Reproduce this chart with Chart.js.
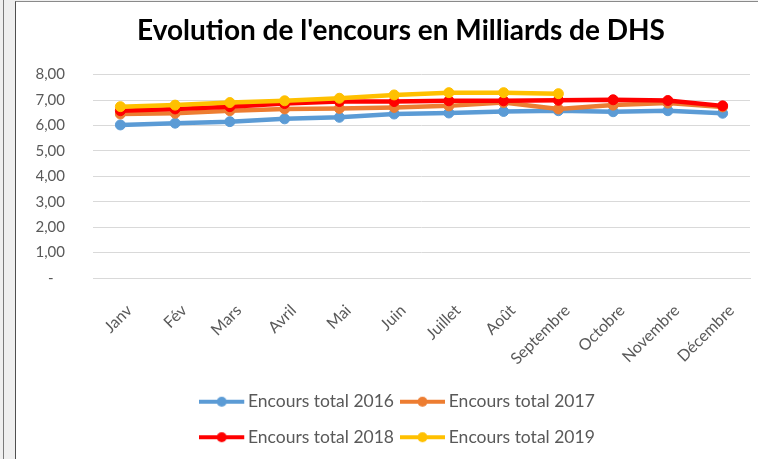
<!DOCTYPE html>
<html>
<head>
<meta charset="utf-8">
<script src="https://cdn.jsdelivr.net/npm/chart.js@4"></script>
<style>
  html, body { margin: 0; padding: 0; width: 758px; height: 459px; overflow: hidden; background: #efefef; }
  #strip { position: absolute; left: 3px; top: 0; width: 1px; height: 459px; background: #7a7a7a; }
  #frame { position: absolute; left: 15px; top: 1px; width: 800px; height: 480px; background: #fff;
           border-left: 1px solid #505050; border-top: 1px solid #8a8a8a; }
  #wrap { position: absolute; left: 0; top: 0; width: 786px; height: 457px; }
</style>
</head>
<body>
<div id="strip"></div>
<div id="frame"><div id="wrap"><canvas id="c"></canvas></div></div>
<script>
const categories = ['Janv', 'Fév', 'Mars', 'Avril', 'Mai', 'Juin', 'Juillet', 'Août', 'Septembre', 'Octobre', 'Novembre', 'Décembre'];
const encours2016 = [6.02, 6.09, 6.15, 6.26, 6.32, 6.45, 6.49, 6.55, 6.58, 6.54, 6.58, 6.48];
const encours2017 = [6.45, 6.48, 6.58, 6.65, 6.67, 6.71, 6.77, 6.90, 6.65, 6.80, 6.88, 6.73];
const encours2018 = [6.58, 6.65, 6.74, 6.86, 6.94, 6.94, 6.97, 6.97, 6.99, 7.01, 6.98, 6.77];
const encours2019 = [6.74, 6.80, 6.90, 6.97, 7.07, 7.20, 7.29, 7.29, 7.25, null, null, null];
const seriesNames = ['Encours total 2016', 'Encours total 2017', 'Encours total 2018', 'Encours total 2019'];
const yTickLabels = ['-   ', '1,00', '2,00', '3,00', '4,00', '5,00', '6,00', '7,00', '8,00'];
const titleText = "Evolution de l'encours en Milliards de DHS";

const colors = ['#5b9bd5', '#ed7d31', '#ff0000', '#ffc000'];
const seriesData = [encours2016, encours2017, encours2018, encours2019];

function legendImage(color) {
  const cv = document.createElement('canvas');
  cv.width = 52; cv.height = 14;
  const g = cv.getContext('2d');
  g.strokeStyle = color; g.lineWidth = 4; g.lineCap = 'butt';
  g.beginPath(); g.moveTo(0, 7); g.lineTo(45, 7); g.stroke();
  g.fillStyle = color;
  g.beginPath(); g.arc(22.5, 7, 5, 0, Math.PI * 2); g.fill();
  return cv;
}
const legendImgs = colors.map(legendImage);

const datasets = seriesData.map((d, i) => ({
  label: seriesNames[i],
  data: d,
  borderColor: colors[i],
  backgroundColor: colors[i],
  pointBackgroundColor: colors[i],
  pointBorderColor: colors[i],
  borderWidth: 4.5,
  pointRadius: 5,
  pointBorderWidth: 1,
  tension: 0,
  spanGaps: false,
  order: 3 - i
}));

function shiftDraw(box, chart, dx) {
  if (!box || box._shifted) return;
  const od = box.draw.bind(box);
  box.draw = function (a) {
    const ctx = chart.ctx;
    ctx.save(); ctx.translate(dx, 0); od(a); ctx.restore();
  };
  box._shifted = true;
}

const layoutTweaks = {
  id: 'layoutTweaks',
  afterInit(chart) {
    const lg = chart.legend;
    if (lg && !lg._wrapped) {
      const orig = lg.update.bind(lg);
      lg.update = function (mw, mh, m) { return orig(Math.min(mw, 470), mh, m); };
      lg._wrapped = true;
    }
    shiftDraw(chart.titleBlock, chart, 8);
    shiftDraw(chart.legend, chart, 10);
  }
};

new Chart(document.getElementById('c'), {
  type: 'line',
  data: { labels: categories, datasets },
  plugins: [layoutTweaks],
  options: {
    responsive: true,
    maintainAspectRatio: false,
    animation: false,
    layout: { padding: { left: 20, right: 52, top: 0, bottom: 3 } },
    plugins: {
      tooltip: { enabled: false },
      title: {
        display: true,
        text: titleText,
        color: '#000000',
        font: { family: 'Lato', size: 28, weight: 'bold' },
        padding: { top: 12, bottom: 27 }
      },
      legend: {
        position: 'bottom',
        labels: {
          usePointStyle: true,
          pointStyleWidth: 28,
          padding: 18,
          color: '#595959',
          font: { family: 'Lato', size: 17.5 },
          sort: (a, b) => a.datasetIndex - b.datasetIndex,
          generateLabels(chart) {
            const items = Chart.defaults.plugins.legend.labels.generateLabels(chart);
            items.forEach(it => { it.pointStyle = legendImgs[it.datasetIndex]; });
            return items;
          }
        }
      }
    },
    scales: {
      x: {
        offset: true,
        grid: { display: false, drawTicks: false },
        border: { display: true, color: '#d9d9d9', width: 1 },
        ticks: {
          autoSkip: false, maxRotation: 45, minRotation: 45,
          color: '#595959', font: { family: 'Lato', size: 16 },
          padding: 23, labelOffset: 9
        },
        afterFit(scale) { scale.height = 97; }
      },
      y: {
        min: 0, max: 8,
        grid: { color: '#d9d9d9', lineWidth: 1, drawTicks: false },
        border: { display: false },
        ticks: {
          stepSize: 1,
          color: '#595959', font: { family: 'Lato', size: 15 },
          padding: 28,
          callback: (v, i) => yTickLabels[i]
        },
        afterFit(scale) { scale.width = 57; }
      }
    }
  }
});
</script>
</body>
</html>
